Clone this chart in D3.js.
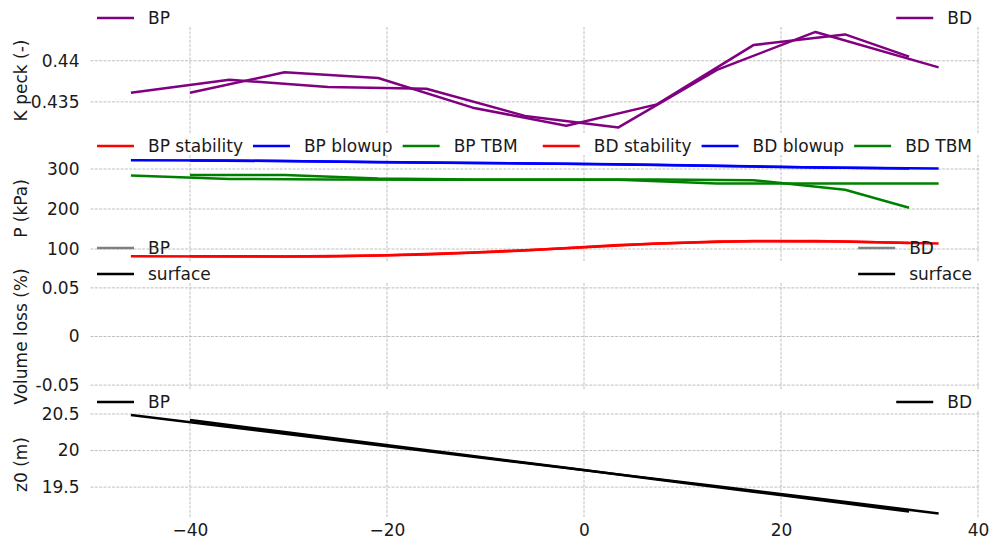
<!DOCTYPE html>
<html>
<head>
<meta charset="utf-8">
<script src="https://cdn.jsdelivr.net/npm/d3@7"></script>
<style>
body { margin: 0; background: #fff; }
text { font-family: "DejaVu Sans", sans-serif; font-size: 17px; fill: #1a1a1a; }
</style>
</head>
<body>
<script>
// stations (m) for each line
var xBP = [-46, -36, -26, -16, -6, 3.5, 13.5, 23.5, 36];
var xBD = [-40, -30.4, -20.9, -11.3, -1.8, 7.4, 17.2, 26.5, 33];

// K peck
var kBP = [0.4361, 0.4377, 0.4368, 0.4366, 0.4333, 0.4319, 0.4389, 0.4435, 0.4392];
var kBD = [0.4361, 0.4386, 0.4379, 0.4343, 0.4321, 0.4347, 0.4419, 0.4432, 0.4405];

// pressures (kPa)
var pStabilityBP = [82, 81.5, 81.5, 86, 96, 110, 119, 120, 114];
var pBlowupBP = [322, 321, 319, 316, 314, 312, 308, 304, 301];
var pTbmBP = [284, 275, 274, 273, 273, 273, 264, 264, 264];
var pStabilityBD = [82, 81.5, 84, 91, 102, 114, 120, 119, 115];
var pBlowupBD = [321, 320, 317, 315, 313, 310, 306, 303, 301];
var pTbmBD = [285, 285, 276, 274, 274, 274, 272, 248, 203];

// volume loss (%) - nothing plotted
var vlBP = [], vlSurfaceBP = [], vlBD = [], vlSurfaceBD = [];

// z0 (m)
var z0BP = [20.486, 20.322, 20.158, 19.994, 19.83, 19.674, 19.51, 19.346, 19.14];
var z0BD = [20.418, 20.253, 20.09, 19.926, 19.763, 19.605, 19.437, 19.277, 19.165];

var xTicks = [-40, -20, 0, 20, 40];

var width = 992, height = 544;
var left = 90.5, right = 979;
var panelH = 107;

var svg = d3.select('body').append('svg')
	.attr('width', width)
	.attr('height', height);

svg.append('rect').attr('width', width).attr('height', height).attr('fill', '#fff');

var x = d3.scaleLinear().domain([-50.1, 40.1]).range([left, right]);

function zipXY(xs, ys) {
	return ys.map(function (v, i) { return [xs[i], v]; });
}

var panels = [
	{ top: 27, label: 'K peck (-)', domain: [0.4311, 0.4441], ticks: [0.435, 0.44],
	  series: [
		{ data: zipXY(xBP, kBP), color: '#800080' },
		{ data: zipXY(xBD, kBD), color: '#800080' }],
	  legL: [{ label: 'BP', color: '#800080' }],
	  legR: [{ label: 'BD', color: '#800080' }], horizontal: false },
	{ top: 155, label: 'P (kPa)', domain: [67.5, 335], ticks: [100, 200, 300],
	  series: [
		{ data: zipXY(xBP, pStabilityBP), color: '#ff0000' },
		{ data: zipXY(xBP, pBlowupBP), color: '#0000ff' },
		{ data: zipXY(xBP, pTbmBP), color: '#008000' },
		{ data: zipXY(xBD, pStabilityBD), color: '#ff0000' },
		{ data: zipXY(xBD, pBlowupBD), color: '#0000ff' },
		{ data: zipXY(xBD, pTbmBD), color: '#008000' }],
	  legL: [{ label: 'BP stability', color: '#ff0000' }, { label: 'BP blowup', color: '#0000ff' }, { label: 'BP TBM', color: '#008000' }],
	  legR: [{ label: 'BD stability', color: '#ff0000' }, { label: 'BD blowup', color: '#0000ff' }, { label: 'BD TBM', color: '#008000' }],
	  horizontal: true },
	{ top: 283, label: 'Volume loss (%)', domain: [-0.055, 0.055], ticks: [-0.05, 0, 0.05],
	  series: [
		{ data: zipXY(xBP, vlBP), color: '#808080' },
		{ data: zipXY(xBP, vlSurfaceBP), color: '#000000' },
		{ data: zipXY(xBD, vlBD), color: '#808080' },
		{ data: zipXY(xBD, vlSurfaceBD), color: '#000000' }],
	  legL: [{ label: 'BP', color: '#808080' }, { label: 'surface', color: '#000000' }],
	  legR: [{ label: 'BD', color: '#808080' }, { label: 'surface', color: '#000000' }], horizontal: false },
	{ top: 411, label: 'z0 (m)', domain: [19.077, 20.541], ticks: [19.5, 20, 20.5],
	  series: [
		{ data: zipXY(xBP, z0BP), color: '#000000' },
		{ data: zipXY(xBD, z0BD), color: '#000000' }],
	  legL: [{ label: 'BP', color: '#000000' }],
	  legR: [{ label: 'BD', color: '#000000' }], horizontal: false }
];

function drawLegend(items, side, horizontal, top) {
	var lg = svg.append('g');
	var ents = lg.selectAll('g').data(items).enter().append('g');
	ents.append('line')
		.attr('x1', 0).attr('x2', 37).attr('y1', 0).attr('y2', 0)
		.attr('stroke', function (d) { return d.color; })
		.attr('stroke-width', 2.5);
	ents.append('text')
		.attr('x', 51).attr('dy', '0.35em')
		.text(function (d) { return d.label; });
	var widths = [];
	ents.each(function () {
		widths.push(51 + d3.select(this).select('text').node().getComputedTextLength());
	});
	var rowY = top - 9;
	if (horizontal) {
		var total = d3.sum(widths) + 10 * (widths.length - 1);
		var cx = side === 'left' ? 97 : 972 - total;
		ents.attr('transform', function (d, i) {
			var t = 'translate(' + cx + ',' + rowY + ')';
			cx += widths[i] + 10;
			return t;
		});
	} else {
		var w = d3.max(widths);
		var x0 = side === 'left' ? 97 : 972 - w;
		var n = items.length;
		ents.attr('transform', function (d, i) {
			return 'translate(' + x0 + ',' + (rowY - (n - 1 - i) * 26) + ')';
		});
	}
}

panels.forEach(function (p, pi) {
	var y = d3.scaleLinear().domain(p.domain).range([p.top + panelH, p.top]);
	var g = svg.append('g');

	// grid
	g.selectAll('.vgrid').data(xTicks).enter().append('line')
		.attr('x1', function (d) { return x(d); }).attr('x2', function (d) { return x(d); })
		.attr('y1', p.top).attr('y2', p.top + panelH)
		.attr('stroke', '#b0b0b0').attr('stroke-width', 0.8).attr('stroke-dasharray', '3,1.3');
	g.selectAll('.hgrid').data(p.ticks).enter().append('line')
		.attr('x1', left).attr('x2', right)
		.attr('y1', function (d) { return y(d); }).attr('y2', function (d) { return y(d); })
		.attr('stroke', '#b0b0b0').attr('stroke-width', 0.8).attr('stroke-dasharray', '3,1.3');

	// y axis
	var ax = g.append('g').attr('transform', 'translate(' + left + ',0)')
		.call(d3.axisLeft(y).tickValues(p.ticks).tickSize(0).tickPadding(11)
			.tickFormat(function (d) { return String(d); }));
	ax.select('.domain').remove();
	ax.selectAll('text').attr('font-size', null).attr('font-family', null).attr('fill', null);

	// y label
	var cy = p.top + panelH / 2;
	g.append('text')
		.attr('transform', 'translate(27,' + cy + ') rotate(-90)')
		.attr('text-anchor', 'middle')
		.text(p.label);

	// lines
	var line = d3.line().x(function (d) { return x(d[0]); }).y(function (d) { return y(d[1]); });
	p.series.forEach(function (s) {
		if (!s.data.length) return;
		g.append('path').datum(s.data)
			.attr('d', line)
			.attr('fill', 'none')
			.attr('stroke', s.color)
			.attr('stroke-width', 2.5)
			.attr('stroke-linejoin', 'round');
	});

	drawLegend(p.legL, 'left', p.horizontal, p.top);
	drawLegend(p.legR, 'right', p.horizontal, p.top);

	if (pi === panels.length - 1) {
		var xa = g.append('g').attr('transform', 'translate(0,' + (p.top + panelH) + ')')
			.call(d3.axisBottom(x).tickValues(xTicks).tickSize(0).tickPadding(6));
		xa.select('.domain').remove();
		xa.selectAll('text').attr('font-size', null).attr('font-family', null).attr('fill', null);
	}
});
</script>
</body>
</html>
